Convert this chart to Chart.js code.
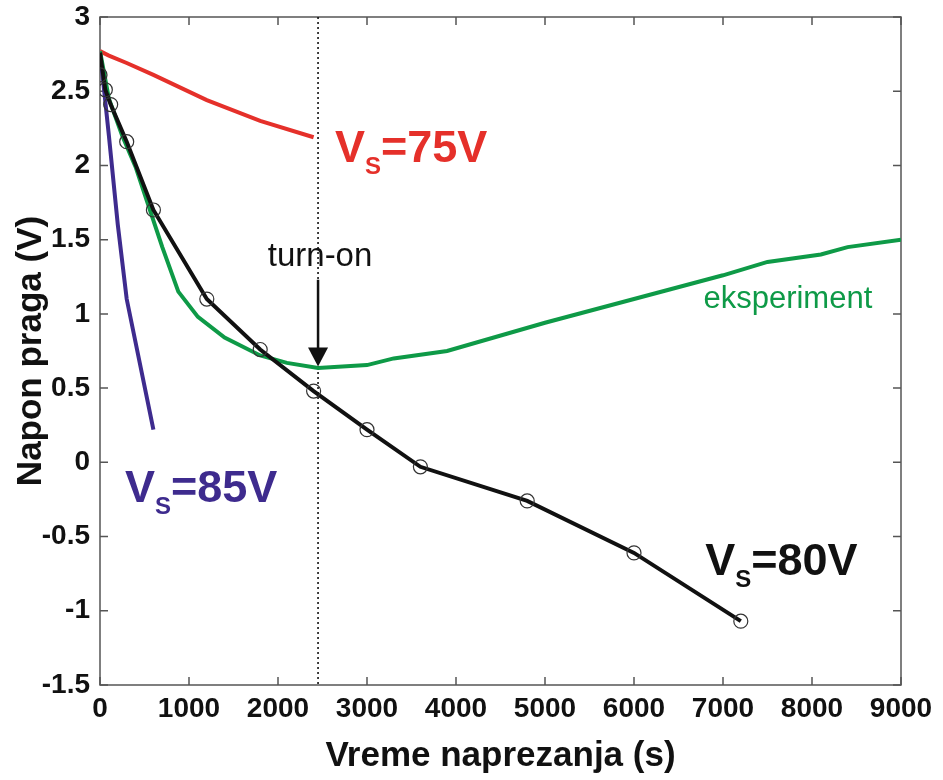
<!DOCTYPE html>
<html>
<head>
<meta charset="utf-8">
<title>Napon praga</title>
<script src="https://cdn.jsdelivr.net/npm/chart.js@4/dist/chart.umd.min.js"></script>
<style>
  body { margin: 0; background: #fff; }
  canvas { display: block; }
</style>
</head>
<body>
<canvas id="grafik" width="943" height="780"></canvas>
<script>
// Podaci ocitani sa slike (vreme u s, napon u V)
const v75Vreme = [0, 100, 300, 600, 1200, 1800, 2400];
const v75Napon = [2.77, 2.74, 2.69, 2.61, 2.44, 2.30, 2.19];

const v85Vreme = [0, 100, 200, 300, 600];
const v85Napon = [2.77, 2.2, 1.6, 1.1, 0.22];

const v80Vreme = [0, 60, 120, 300, 600, 1200, 1800, 2400, 3000, 3600, 4800, 6000, 7200];
const v80Napon = [2.76, 2.51, 2.41, 2.16, 1.70, 1.10, 0.76, 0.48, 0.22, -0.03, -0.26, -0.61, -1.07];

const tackeVreme = [0, 60, 120, 300, 600, 1200, 1800, 2400, 3000, 3600, 4800, 6000, 7200];
const tackeNapon = [2.61, 2.51, 2.41, 2.16, 1.70, 1.10, 0.76, 0.48, 0.22, -0.03, -0.26, -0.61, -1.07];

const eksVreme = [0, 100, 250, 400, 550, 700, 880, 1100, 1400, 1800, 2100, 2450, 3000, 3300, 3900, 5000, 6000, 7000, 7500, 8100, 8400, 9000];
const eksNapon = [2.77, 2.45, 2.2, 1.99, 1.72, 1.45, 1.15, 0.98, 0.84, 0.72, 0.67, 0.635, 0.655, 0.70, 0.75, 0.94, 1.10, 1.26, 1.35, 1.40, 1.45, 1.50];

const turnOnVreme = 2450;

const xTicks = [0, 1000, 2000, 3000, 4000, 5000, 6000, 7000, 8000, 9000];
const yTicks = [-1.5, -1, -0.5, 0, 0.5, 1, 1.5, 2, 2.5, 3];

// Boje
const crvena = '#e5302a';
const ljubicasta = '#3e2b8e';
const zelena = '#0e9a47';
const crna = '#111111';

const parovi = (xs, ys) => xs.map((x, i) => ({ x: x, y: ys[i] }));

// Okvir sa crticama okrenutim ka unutra (kao u Matlab-u)
const okvirPlugin = {
  id: 'okvir',
  beforeDatasetsDraw(chart) {
    const { ctx, chartArea: a, scales } = chart;
    ctx.save();
    ctx.strokeStyle = '#555';
    ctx.lineWidth = 1.5;
    ctx.strokeRect(a.left, a.top, a.right - a.left, a.bottom - a.top);
    ctx.beginPath();
    xTicks.forEach(v => {
      const px = scales.x.getPixelForValue(v);
      ctx.moveTo(px, a.bottom); ctx.lineTo(px, a.bottom - 8);
      ctx.moveTo(px, a.top); ctx.lineTo(px, a.top + 8);
    });
    yTicks.forEach(v => {
      const py = scales.y.getPixelForValue(v);
      ctx.moveTo(a.left, py); ctx.lineTo(a.left + 8, py);
      ctx.moveTo(a.right, py); ctx.lineTo(a.right - 8, py);
    });
    ctx.stroke();

    // isprekidana linija za turn-on
    const xt = scales.x.getPixelForValue(turnOnVreme);
    ctx.setLineDash([2, 3]);
    ctx.strokeStyle = '#111';
    ctx.lineWidth = 1.6;
    ctx.beginPath();
    ctx.moveTo(xt, a.top);
    ctx.lineTo(xt, a.bottom);
    ctx.stroke();
    ctx.restore();
  }
};

// Natpis oblika V_S=..V
const natpis = (ctx, tekst, x, y, boja) => {
  ctx.fillStyle = boja;
  ctx.textBaseline = 'alphabetic';
  ctx.textAlign = 'left';
  ctx.font = 'bold 45px "Liberation Sans", Arial, sans-serif';
  ctx.fillText('V', x, y);
  let w = ctx.measureText('V').width;
  ctx.font = 'bold 24px "Liberation Sans", Arial, sans-serif';
  ctx.fillText('S', x + w, y + 12);
  w += ctx.measureText('S').width;
  ctx.font = 'bold 45px "Liberation Sans", Arial, sans-serif';
  ctx.fillText(tekst, x + w, y);
};

const anotacijePlugin = {
  id: 'anotacije',
  afterDatasetsDraw(chart) {
    const { ctx, scales } = chart;
    const sx = v => scales.x.getPixelForValue(v);
    const sy = v => scales.y.getPixelForValue(v);
    ctx.save();

    natpis(ctx, '=75V', sx(2640), sy(2.02), crvena);
    natpis(ctx, '=85V', sx(280), sy(-0.27), ljubicasta);
    natpis(ctx, '=80V', sx(6800), sy(-0.76), crna);

    ctx.fillStyle = zelena;
    ctx.font = '31px "Liberation Sans", Arial, sans-serif';
    ctx.textAlign = 'left';
    ctx.textBaseline = 'alphabetic';
    ctx.fillText('eksperiment', sx(6780), sy(1.04));

    // turn-on strelica
    const xt = sx(turnOnVreme);
    ctx.fillStyle = '#111';
    ctx.font = '33px "Liberation Sans", Arial, sans-serif';
    ctx.textAlign = 'center';
    ctx.fillText('turn-on', xt + 2, sy(1.32));

    const yVrh = sy(0.645);
    ctx.strokeStyle = '#111';
    ctx.lineWidth = 2.5;
    ctx.beginPath();
    ctx.moveTo(xt, sy(1.23));
    ctx.lineTo(xt, yVrh - 16);
    ctx.stroke();
    ctx.beginPath();
    ctx.moveTo(xt - 10, yVrh - 19);
    ctx.lineTo(xt + 10, yVrh - 19);
    ctx.lineTo(xt, yVrh);
    ctx.closePath();
    ctx.fill();
    ctx.restore();
  }
};

const linija = (label, xs, ys, boja, red) => ({
  label: label,
  data: parovi(xs, ys),
  borderColor: boja,
  backgroundColor: boja,
  borderWidth: 4,
  pointRadius: 0,
  showLine: true,
  tension: 0,
  order: red
});

const fontTick = { family: '"Liberation Sans", Arial, sans-serif', size: 28, weight: 'bold' };
const fontNaslov = { family: '"Liberation Sans", Arial, sans-serif', size: 35, weight: 'bold' };

const ctx = document.getElementById('grafik').getContext('2d');
new Chart(ctx, {
  type: 'scatter',
  data: {
    datasets: [
      {
        label: 'merenja',
        data: parovi(tackeVreme, tackeNapon),
        showLine: false,
        pointRadius: 7,
        pointStyle: 'circle',
        borderColor: '#333',
        backgroundColor: 'rgba(0,0,0,0)',
        pointBorderWidth: 1.2,
        order: 0
      },
      linija('VS=80V', v80Vreme, v80Napon, crna, 1),
      linija('eksperiment', eksVreme, eksNapon, zelena, 2),
      linija('VS=75V', v75Vreme, v75Napon, crvena, 3),
      linija('VS=85V', v85Vreme, v85Napon, ljubicasta, 4)
    ]
  },
  options: {
    responsive: false,
    animation: false,
    layout: { padding: { top: 17, right: 42, left: 0, bottom: 3 } },
    plugins: {
      legend: { display: false },
      tooltip: { enabled: false }
    },
    scales: {
      x: {
        type: 'linear',
        min: 0,
        max: 9000,
        grid: { display: false, drawTicks: false },
        border: { display: false },
        afterBuildTicks: s => { s.ticks = xTicks.map(v => ({ value: v })); },
        ticks: {
          padding: 7,
          color: '#111',
          font: fontTick,
          maxRotation: 0,
          autoSkip: false,
          callback: v => String(v)
        },
        title: {
          display: true,
          text: 'Vreme naprezanja (s)',
          color: '#111',
          font: fontNaslov,
          padding: { top: 0, bottom: 0 }
        },
        afterFit: s => { s.height = 92; s.paddingLeft = 0; s.paddingRight = 0; }
      },
      y: {
        type: 'linear',
        min: -1.5,
        max: 3,
        grid: { display: false, drawTicks: false },
        border: { display: false },
        afterBuildTicks: s => { s.ticks = yTicks.map(v => ({ value: v })); },
        ticks: {
          padding: 10,
          color: '#111',
          font: fontTick,
          callback: v => String(v)
        },
        title: {
          display: true,
          text: 'Napon praga (V)',
          color: '#111',
          font: fontNaslov,
          padding: { top: 10, bottom: 0 }
        },
        afterFit: s => { s.width = 100; s.paddingTop = 0; s.paddingBottom = 0; }
      }
    }
  },
  plugins: [okvirPlugin, anotacijePlugin]
});
</script>
</body>
</html>
